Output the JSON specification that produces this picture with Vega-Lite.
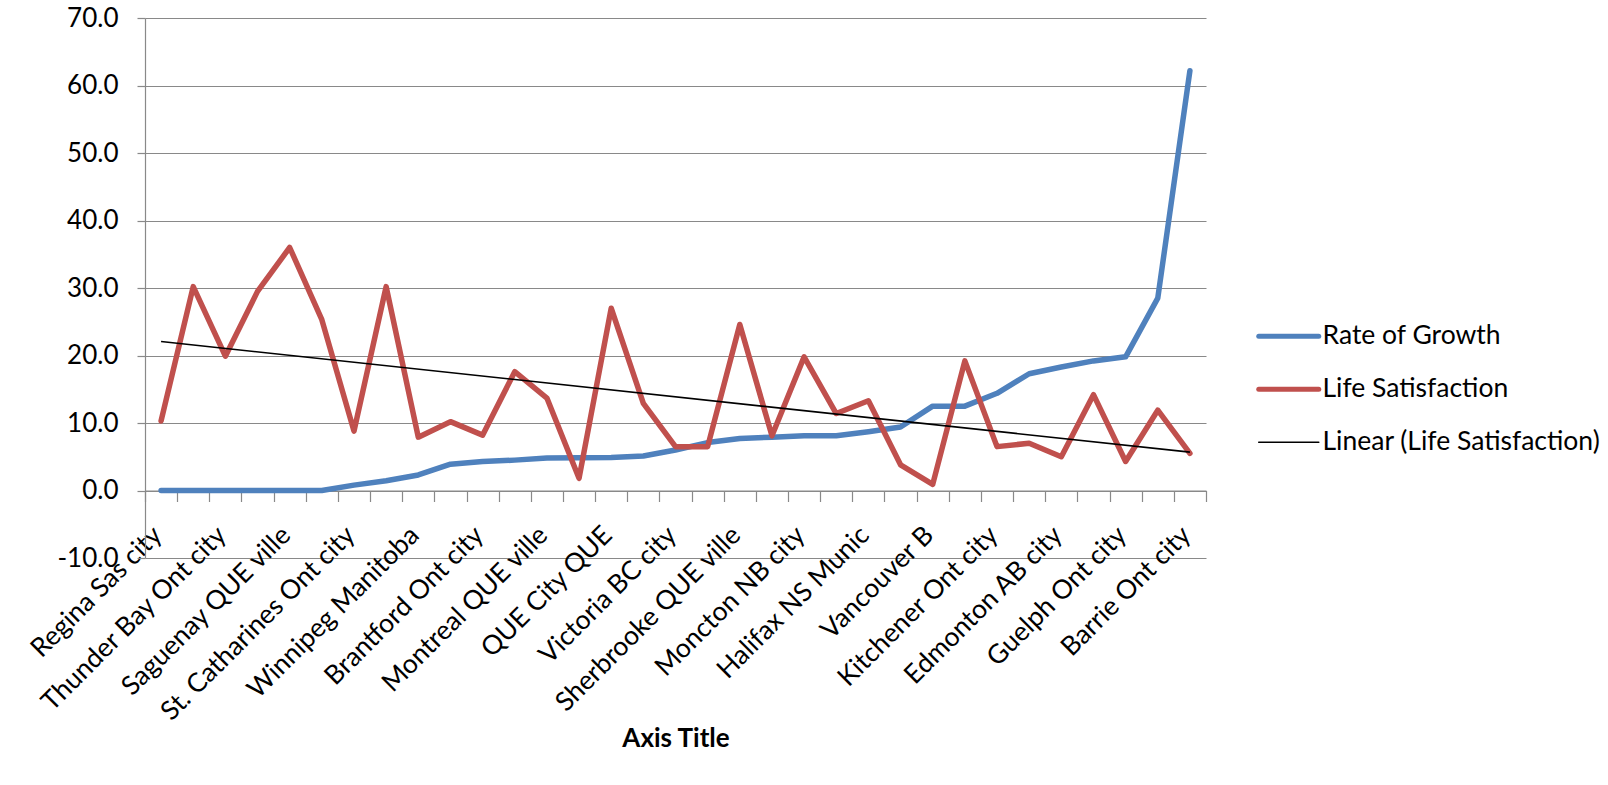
{
  "$schema": "https://vega.github.io/schema/vega-lite/v6.json",
  "width": 1061,
  "height": 540,
  "autosize": {"type": "none"},
  "padding": {"left": 145, "top": 18, "right": 402, "bottom": 227},
  "background": "white",
  "datasets": {
    "cities": [
      {"rank": 0, "city": "Regina Sas city", "growth": 0, "satisfaction": 10.3},
      {"rank": 1, "city": "Sudbury Ont city", "growth": 0, "satisfaction": 30.2},
      {"rank": 2, "city": "Thunder Bay Ont city", "growth": 0, "satisfaction": 19.9},
      {"rank": 3, "city": "Trois-Rivieres QUE ville", "growth": 0, "satisfaction": 29.5},
      {"rank": 4, "city": "Saguenay QUE ville", "growth": 0, "satisfaction": 36.0},
      {"rank": 5, "city": "Windsor Ont city", "growth": 0, "satisfaction": 25.3},
      {"rank": 6, "city": "St. Catharines Ont city", "growth": 0.8, "satisfaction": 8.8},
      {"rank": 7, "city": "Hamilton Ont city", "growth": 1.45, "satisfaction": 30.2},
      {"rank": 8, "city": "Winnipeg Manitoba", "growth": 2.3, "satisfaction": 7.9},
      {"rank": 9, "city": "Kingston Ont city", "growth": 3.9, "satisfaction": 10.2},
      {"rank": 10, "city": "Brantford Ont city", "growth": 4.3, "satisfaction": 8.2},
      {"rank": 11, "city": "Ottawa Ont city", "growth": 4.5, "satisfaction": 17.6},
      {"rank": 12, "city": "Montreal QUE ville", "growth": 4.8, "satisfaction": 13.7},
      {"rank": 13, "city": "Gatineau QUE ville", "growth": 4.85, "satisfaction": 1.8},
      {"rank": 14, "city": "QUE City QUE", "growth": 4.9, "satisfaction": 27.0},
      {"rank": 15, "city": "Saint John NB city", "growth": 5.1, "satisfaction": 12.9},
      {"rank": 16, "city": "Victoria BC city", "growth": 6.0, "satisfaction": 6.5},
      {"rank": 17, "city": "Peterborough Ont city", "growth": 7.1, "satisfaction": 6.5},
      {"rank": 18, "city": "Sherbrooke QUE ville", "growth": 7.7, "satisfaction": 24.6},
      {"rank": 19, "city": "London Ont city", "growth": 7.9, "satisfaction": 8.1},
      {"rank": 20, "city": "Moncton NB city", "growth": 8.1, "satisfaction": 19.8},
      {"rank": 21, "city": "Toronto Ont city", "growth": 8.1, "satisfaction": 11.4},
      {"rank": 22, "city": "Halifax NS Munic", "growth": 8.7, "satisfaction": 13.3},
      {"rank": 23, "city": "Abbotsford BC city", "growth": 9.4, "satisfaction": 3.8},
      {"rank": 24, "city": "Vancouver B", "growth": 12.5, "satisfaction": 0.9},
      {"rank": 25, "city": "Oshawa Ont city", "growth": 12.5, "satisfaction": 19.2},
      {"rank": 26, "city": "Kitchener Ont city", "growth": 14.4, "satisfaction": 6.5},
      {"rank": 27, "city": "Calgary AB city", "growth": 17.3, "satisfaction": 7.0},
      {"rank": 28, "city": "Edmonton AB city", "growth": 18.3, "satisfaction": 5.0},
      {"rank": 29, "city": "Kelowna BC city", "growth": 19.2, "satisfaction": 14.2},
      {"rank": 30, "city": "Guelph Ont city", "growth": 19.8, "satisfaction": 4.3},
      {"rank": 31, "city": "Saskatoon Sas city", "growth": 28.5, "satisfaction": 11.9},
      {"rank": 32, "city": "Barrie Ont city", "growth": 62.2, "satisfaction": 5.5}
    ]
  },
  "data": {"name": "cities"},
  "config": {
    "view": {"stroke": null},
    "font": "Lato",
    "axis": {"labelFont": "Lato", "titleFont": "Lato", "labelColor": "#000000", "titleColor": "#000000"},
    "axisY": {
      "domainColor": "#898989",
      "domainWidth": 1.2,
      "tickColor": "#898989",
      "tickWidth": 1.2,
      "tickSize": 8,
      "gridColor": "#898989",
      "gridWidth": 1.2,
      "gridOpacity": 1,
      "labelFontSize": 26,
      "labelPadding": 19
    }
  },
  "resolve": {"scale": {"x": "independent"}, "axis": {"x": "independent"}},
  "layer": [
    {
      "mark": {"type": "line", "strokeWidth": 5.5, "strokeCap": "round", "strokeJoin": "round"},
      "encoding": {
        "x": {
          "field": "city",
          "type": "nominal",
          "sort": null,
          "scale": {"type": "point", "padding": 0.5},
          "axis": {
            "orient": "bottom",
            "values": ["Regina Sas city", "Thunder Bay Ont city", "Saguenay QUE ville", "St. Catharines Ont city", "Winnipeg Manitoba", "Brantford Ont city", "Montreal QUE ville", "QUE City QUE", "Victoria BC city", "Sherbrooke QUE ville", "Moncton NB city", "Halifax NS Munic", "Vancouver B", "Kitchener Ont city", "Edmonton AB city", "Guelph Ont city", "Barrie Ont city"],
            "offset": -67.5,
            "ticks": false,
            "tickSize": 0,
            "grid": false,
            "domain": true,
            "domainColor": "#898989",
            "domainWidth": 1.2,
            "labelAngle": -45,
            "labelAlign": "right",
            "labelBaseline": "top",
            "labelPadding": 31,
            "labelOffset": -13,
            "labelFontSize": 26.5,
            "labelOverlap": false,
            "labelLimit": 500,
            "title": "Axis Title",
            "titleFontSize": 26,
            "titleFontWeight": "bold",
            "titleBaseline": "alphabetic",
            "titleY": 255.5
          }
        },
        "y": {
          "field": "growth",
          "type": "quantitative",
          "scale": {"domain": [-10, 70], "nice": false},
          "axis": {"values": [-10, 0, 10, 20, 30, 40, 50, 60, 70], "format": ".1f", "labelExpr": "replace(datum.label, '\u2212', '-')", "title": null}
        },
        "color": {
          "datum": "Rate of Growth",
          "type": "nominal",
          "scale": {
            "domain": ["Rate of Growth", "Life Satisfaction", "Linear (Life Satisfaction)"],
            "range": ["#4F81BD", "#C0504D", "#000000"]
          },
          "legend": {
            "orient": "none",
            "legendX": 1130.5,
            "legendY": 305,
            "title": null,
            "padding": 0,
            "symbolType": "M-2,0H2",
            "symbolSize": 900,
            "symbolStrokeWidth": 5,
            "symbolOffset": 0,
            "labelFont": "Lato",
            "labelFontSize": 26.5,
            "labelColor": "#000000",
            "labelOffset": 20.5,
            "labelLimit": 500,
            "rowPadding": 26,
            "encode": {
              "symbols": {
                "update": {
                  "strokeWidth": {"signal": "datum.value === 'Linear (Life Satisfaction)' ? 1.6 : 5"},
                  "strokeCap": {"value": "round"}
                }
              }
            }
          }
        }
      }
    },
    {
      "mark": {"type": "line", "strokeWidth": 5.5, "strokeCap": "round", "strokeJoin": "round"},
      "encoding": {
        "x": {
          "field": "city",
          "type": "nominal",
          "sort": null,
          "scale": {"type": "point", "padding": 0.5},
          "axis": null
        },
        "y": {
          "field": "satisfaction",
          "type": "quantitative",
          "scale": {"domain": [-10, 70], "nice": false},
          "axis": {"values": [-10, 0, 10, 20, 30, 40, 50, 60, 70], "format": ".1f", "labelExpr": "replace(datum.label, '\u2212', '-')", "title": null}
        },
        "color": {"datum": "Life Satisfaction", "type": "nominal"}
      }
    },
    {
      "transform": [{"regression": "satisfaction", "on": "rank"}],
      "mark": {"type": "line", "strokeWidth": 1.6},
      "encoding": {
        "x": {
          "field": "rank",
          "type": "quantitative",
          "scale": {"domain": [-0.5, 32.5], "nice": false, "zero": false},
          "axis": {
            "orient": "bottom",
            "values": [-0.5, 0.5, 1.5, 2.5, 3.5, 4.5, 5.5, 6.5, 7.5, 8.5, 9.5, 10.5, 11.5, 12.5, 13.5, 14.5, 15.5, 16.5, 17.5, 18.5, 19.5, 20.5, 21.5, 22.5, 23.5, 24.5, 25.5, 26.5, 27.5, 28.5, 29.5, 30.5, 31.5, 32.5],
            "offset": -67.5,
            "labels": false,
            "domain": false,
            "grid": false,
            "ticks": true,
            "tickSize": 11,
            "tickColor": "#898989",
            "tickWidth": 1.2,
            "title": null
          }
        },
        "y": {
          "field": "satisfaction",
          "type": "quantitative",
          "scale": {"domain": [-10, 70], "nice": false},
          "axis": {"values": [-10, 0, 10, 20, 30, 40, 50, 60, 70], "format": ".1f", "labelExpr": "replace(datum.label, '\u2212', '-')", "title": null}
        },
        "color": {"datum": "Linear (Life Satisfaction)", "type": "nominal"}
      }
    }
  ]
}
